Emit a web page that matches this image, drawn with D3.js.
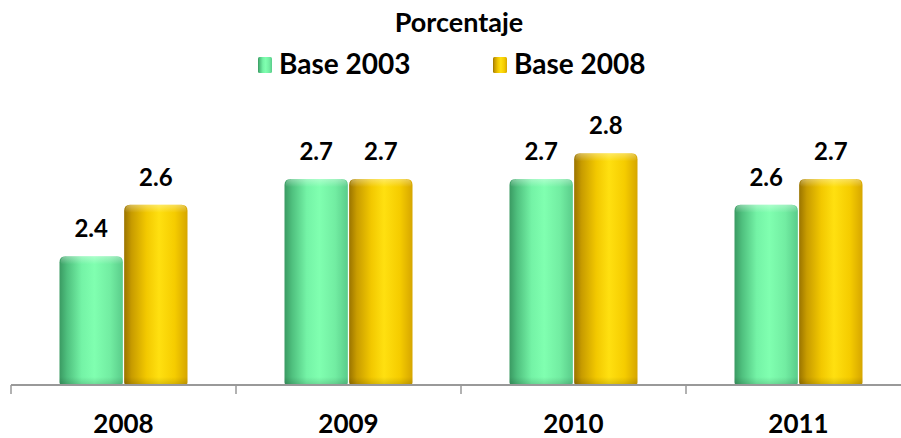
<!DOCTYPE html>
<html><head><meta charset="utf-8">
<script src="https://cdn.jsdelivr.net/npm/d3@7"></script>
<style>html,body{margin:0;padding:0;background:#fff;}svg{display:block;}</style>
</head><body>
<svg id="c" width="901" height="438"></svg>
<script>
const categories = ["2008", "2009", "2010", "2011"];
const seriesNames = ["Base 2003", "Base 2008"];
const base2003 = [2.4, 2.7, 2.7, 2.6];
const base2008 = [2.6, 2.7, 2.8, 2.7];
const title = "Porcentaje";

const svg = d3.select("#c");
const font = "Lato, 'Open Sans', sans-serif";
const axisY = 385;

const x = d3.scaleBand().domain(categories).range([11, 911]).paddingInner(0).paddingOuter(0);
const y = d3.scaleLinear().domain([1.9, 3.0]).range([axisY, axisY - 1.1 * 257.5]);
const groupW = 128;
const xs = d3.scaleBand().domain(seriesNames).range([0, groupW]).paddingInner(0.02);

const defs = svg.append("defs");
const grads = [
  {id: "g0", stops: [[0, "#3a9a62"], [0.12, "#4fc07e"], [0.35, "#74f3a6"], [0.55, "#80ffb0"], [0.8, "#72eda2"], [1, "#5acc8a"]]},
  {id: "g1", stops: [[0, "#9a7400"], [0.12, "#c89c00"], [0.35, "#f2c800"], [0.55, "#ffe010"], [0.8, "#f5cc00"], [1, "#d6a600"]]}
];
grads.forEach(g => {
  const lg = defs.append("linearGradient").attr("id", g.id).attr("x1", "0").attr("x2", "1").attr("y1", "0").attr("y2", "0");
  g.stops.forEach(s => lg.append("stop").attr("offset", s[0]).attr("stop-color", s[1]));
});
const topG = defs.append("linearGradient").attr("id", "top").attr("x1", 0).attr("x2", 0).attr("y1", 0).attr("y2", 1);
topG.append("stop").attr("offset", 0).attr("stop-color", "#fff").attr("stop-opacity", 0.35);
topG.append("stop").attr("offset", 1).attr("stop-color", "#fff").attr("stop-opacity", 0);
const botG = defs.append("linearGradient").attr("id", "bot").attr("x1", 0).attr("x2", 0).attr("y1", 0).attr("y2", 1);
botG.append("stop").attr("offset", 0).attr("stop-color", "#000").attr("stop-opacity", 0);
botG.append("stop").attr("offset", 1).attr("stop-color", "#000").attr("stop-opacity", 0.15);

// title
svg.append("text").attr("x", 459).attr("y", 32).attr("text-anchor", "middle")
  .attr("font-family", font).attr("font-weight", "bold").attr("font-size", 27).attr("fill", "#000").text(title);

// legend
const legendX = [258, 493];
seriesNames.forEach((s, i) => {
  const g = svg.append("g").attr("transform", `translate(${legendX[i]},0)`);
  g.append("rect").attr("x", 0).attr("y", 57).attr("width", 14).attr("height", 16).attr("rx", 1.5)
    .attr("fill", `url(#g${i})`);
  g.append("text").attr("x", 21).attr("y", 74).attr("font-family", font).attr("font-weight", "bold")
    .attr("font-size", 28).attr("fill", "#000").text(s);
});

const series = [base2003, base2008];
function barPath(x0, y0, w, h, r) {
  const rb = 3;
  return `M${x0},${y0 + h - rb} L${x0},${y0 + r} Q${x0},${y0} ${x0 + r},${y0} L${x0 + w - r},${y0} Q${x0 + w},${y0} ${x0 + w},${y0 + r} L${x0 + w},${y0 + h - rb} Q${x0 + w},${y0 + h} ${x0 + w - rb},${y0 + h} L${x0 + rb},${y0 + h} Q${x0},${y0 + h} ${x0},${y0 + h - rb} Z`;
}

categories.forEach((c, ci) => {
  const gx = x(c) + x.bandwidth() / 2 - groupW / 2;
  seriesNames.forEach((s, si) => {
    const v = series[si][ci];
    const bx = gx + xs(s), bw = xs.bandwidth();
    const by = y(v), bh = axisY - y(v);
    svg.append("path").attr("d", barPath(bx, by, bw, bh, 6)).attr("fill", `url(#g${si})`);
    svg.append("path").attr("d", barPath(bx + 1, by, bw - 2, 8, 6)).attr("fill", "url(#top)");
    svg.append("rect").attr("x", bx).attr("y", axisY - 8).attr("width", bw).attr("height", 8).attr("fill", "url(#bot)");
    svg.append("text").attr("x", bx + bw / 2).attr("y", by - 19).attr("text-anchor", "middle")
      .attr("font-family", font).attr("font-weight", "bold").attr("font-size", 24).attr("fill", "#000")
      .text(d3.format(".1f")(v));
  });
});

// axis
const ag = svg.append("g").attr("transform", `translate(0,${axisY})`);
ag.append("line").attr("x1", 11).attr("x2", 911).attr("y1", 0).attr("y2", 0).attr("stroke", "#999").attr("stroke-width", 1.8);
const bounds = categories.map(c => x(c)).concat([x.range()[1]]);
ag.selectAll("line.tk").data(bounds).enter().append("line").attr("class", "tk")
  .attr("x1", d => d).attr("x2", d => d).attr("y1", 0).attr("y2", 9).attr("stroke", "#999").attr("stroke-width", 1.5);
ag.selectAll("text.cl").data(categories).enter().append("text").attr("class", "cl")
  .attr("x", d => x(d) + x.bandwidth() / 2).attr("y", 48).attr("text-anchor", "middle")
  .attr("font-family", font).attr("font-weight", "bold").attr("font-size", 26).attr("fill", "#000").text(d => d);
</script>
</body></html>
